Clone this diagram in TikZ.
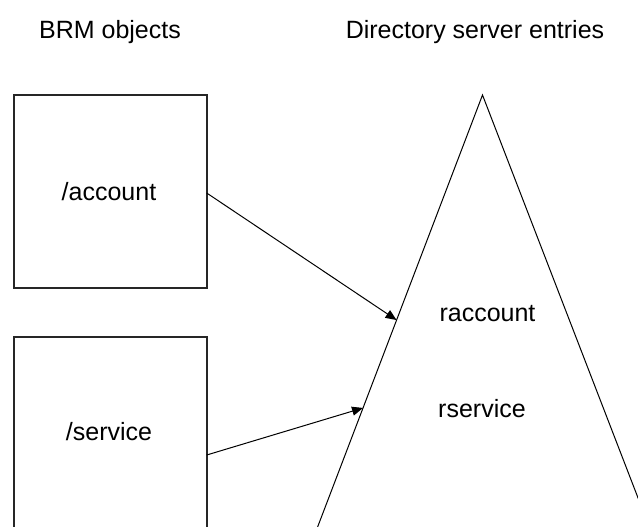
\documentclass[tikz,border=0pt]{standalone}
\usepackage{fontspec}
\setmainfont{Liberation Sans}
\usetikzlibrary{arrows.meta,calc}
\begin{document}
\begin{tikzpicture}[x=1pt,y=-1pt,
  lbl/.style={font=\fontsize{25}{30}\selectfont, anchor=base, inner sep=0pt},
  objbox/.style={draw=black!85, line width=1.6pt, minimum width=193pt, inner sep=0pt},
  conn/.style={line width=1pt, -{Triangle[length=11pt,width=9pt]}},
  tree/.style={line width=1pt}]
\useasboundingbox (0,0) rectangle (638,527);
\clip (0,0) rectangle (638,527);
% headings
\node[lbl] (h1) at (110,38.5) {BRM objects};
\node[lbl] (h2) at (475,38.5) {Directory server entries};
% BRM object boxes
\node[objbox, minimum height=193pt] (acc) at (110.5,191.5) {};
\node[objbox, minimum height=240pt] (srv) at (110.5,457) {};
\node[lbl] (acct) at (109,200) {/account};
\node[lbl] (srvt) at (109,440) {/service};
% directory tree (triangle)
\coordinate (apex) at (482.5,95);
\coordinate (bl) at (305,560);
\coordinate (br) at (662,560);
\draw[tree] (bl) -- (apex) -- (br);
\node[lbl] (racc) at (487.5,321) {raccount};
\node[lbl] (rsrv) at (482,417) {rservice};
% connector targets on the left edge of the tree
\coordinate (t1) at ($(apex)!0.484!(bl)$);
\coordinate (t2) at ($(apex)!0.673!(bl)$);
\coordinate (s1) at (206.7,193);
\coordinate (s2) at (206.7,455);
\draw[conn] (s1) -- (t1);
\draw[conn] (s2) -- (t2);
\end{tikzpicture}
\end{document}
